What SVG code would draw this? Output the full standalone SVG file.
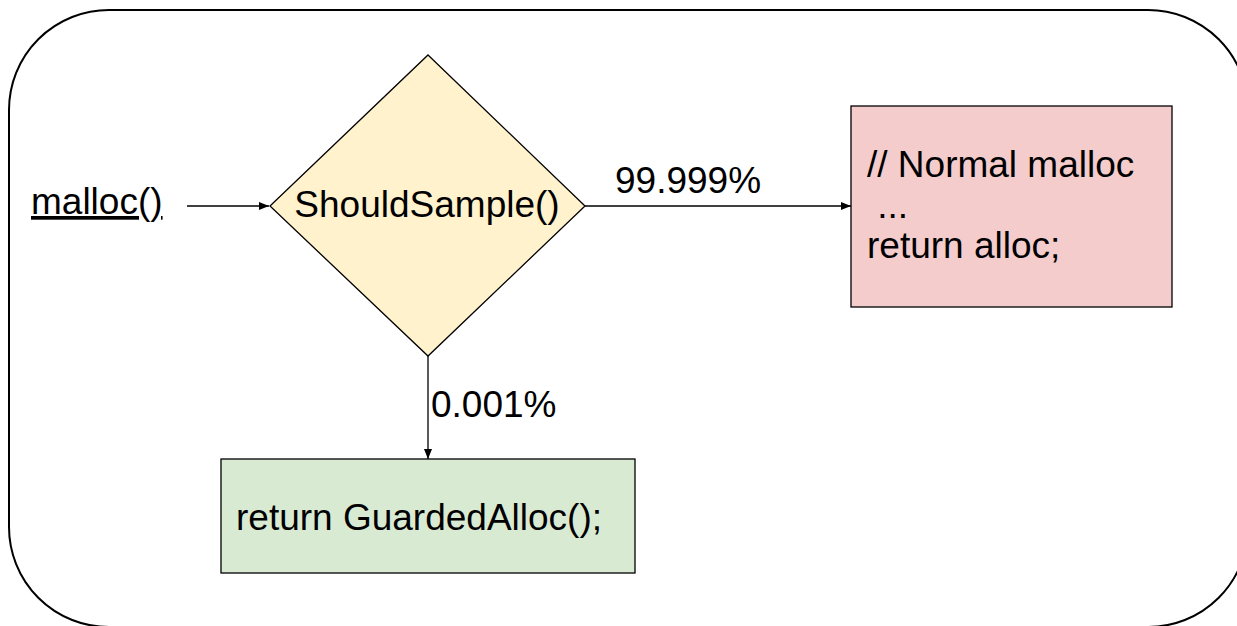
<svg xmlns="http://www.w3.org/2000/svg" width="1237" height="626" viewBox="0 0 1237 626">
<style>
text{font-family:"Liberation Sans",Arial,sans-serif;font-size:37px;fill:#000}
.node{stroke:#000;stroke-width:1.3}
.conn{stroke:#000;stroke-width:1.3;fill:none}
</style>
<defs>
<marker id="arr" viewBox="0 0 10 8" refX="10" refY="4" markerWidth="10" markerHeight="8" markerUnits="userSpaceOnUse" orient="auto">
<path d="M0,0 L10,4 L0,8 z" fill="#000"/>
</marker>
</defs>
<rect width="1237" height="626" fill="#fff"/>
<g id="frame">
<rect x="9" y="10" width="1239" height="617" rx="100" ry="100" fill="none" stroke="#000" stroke-width="2"/>
</g>
<g id="connectors">
<line class="conn" x1="187" y1="206" x2="269" y2="206" marker-end="url(#arr)"/>
<line class="conn" x1="585" y1="206" x2="851" y2="206" marker-end="url(#arr)"/>
<line class="conn" x1="428" y1="356" x2="428" y2="459" marker-end="url(#arr)"/>
<text x="615" y="193">99.999%</text>
<text x="431" y="417">0.001%</text>
</g>
<g id="malloc">
<text x="31" y="214" text-decoration="underline">malloc()</text>
</g>
<g id="should-sample">
<polygon class="node" points="428,55 585,206 428,356 270,206" fill="#fff2cc"/>
<text x="427" y="217" text-anchor="middle">ShouldSample()</text>
</g>
<g id="normal-malloc">
<rect class="node" x="851" y="106" width="321" height="201" fill="#f4cccc"/>
<text x="867" y="177">// Normal malloc</text>
<text x="867" y="218" xml:space="preserve"> ...</text>
<text x="867" y="258">return alloc;</text>
</g>
<g id="guarded-alloc">
<rect class="node" x="221" y="459" width="414" height="114" fill="#d9ead3"/>
<text x="236" y="530">return GuardedAlloc();</text>
</g>
</svg>
